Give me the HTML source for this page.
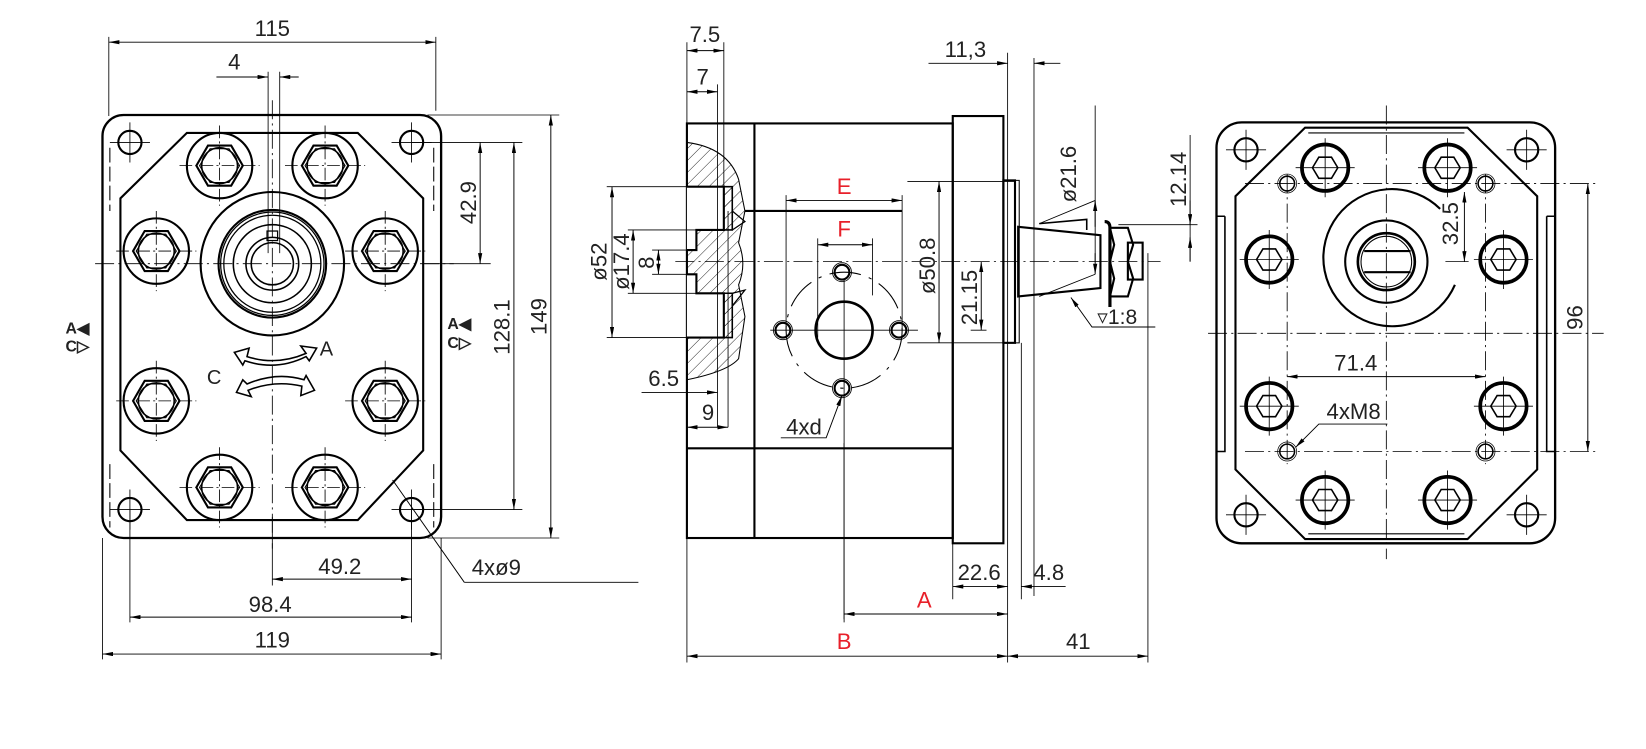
<!DOCTYPE html>
<html><head><meta charset="utf-8"><style>
html,body{margin:0;padding:0;background:#fff;width:1646px;height:749px;overflow:hidden}
svg{display:block}
text{font-family:"Liberation Sans",sans-serif;font-size:21px;fill:#222}
.r{fill:#e8202a}
</style></head><body>
<svg width="1646" height="749" viewBox="0 0 1560 710" xmlns="http://www.w3.org/2000/svg">
<defs>
<marker id="a" viewBox="0 0 10 4" refX="10" refY="2" markerWidth="10" markerHeight="4" markerUnits="userSpaceOnUse" orient="auto-start-reverse"><path d="M0,0L10,2L0,4z" fill="#000"/></marker>
<pattern id="h" width="8" height="8" patternUnits="userSpaceOnUse" patternTransform="rotate(45)"><line x1="0" y1="0" x2="0" y2="8" stroke="#000" stroke-width="0.8"/></pattern>
<g id="bolt"><circle r="31" fill="none" stroke="#000" stroke-width="2"/><polygon points="-22,0 -11,-19 11,-19 22,0 11,19 -11,19" fill="none" stroke="#000" stroke-width="2"/><polygon points="-19,0 -9,-16 9,-16 19,0 9,16 -9,16" fill="none" stroke="#000" stroke-width="1"/><circle r="17" fill="none" stroke="#000" stroke-width="1.5"/><path d="M-38,0H38M0,-38V38" stroke="#000" stroke-width="0.8" stroke-dasharray="12 3 2 3"/></g>
<g id="hole"><circle r="11" fill="none" stroke="#000" stroke-width="2"/><path d="M-19,0H19M0,-19V19" stroke="#000" stroke-width="0.8"/></g>
<g id="rbolt"><circle r="22" fill="none" stroke="#000" stroke-width="3.5"/><polygon points="-12,0 -6,-10 6,-10 12,0 6,10 -6,10" fill="none" stroke="#000" stroke-width="1.5"/><path d="M-28,0H28M0,-28V28" stroke="#000" stroke-width="0.8"/></g>
<g id="m8"><circle r="7" fill="none" stroke="#000" stroke-width="1.5"/><circle r="9" fill="none" stroke="#000" stroke-width="0.7"/></g>
</defs>
<g fill="none" stroke="#000">
<!-- LEFT VIEW -->
<rect x="97" y="109" width="321" height="401" rx="20" stroke-width="2.2"/>
<path d="M104,140V200M104,440V500M411,140V200M411,440V500" stroke-width="1" stroke-dasharray="14 4"/>
<polygon points="177,126 339,126 401,188 401,427 339,493 177,493 114,427 114,188" stroke-width="2"/>
<use href="#hole" x="123" y="135"/><use href="#hole" x="390" y="135"/><use href="#hole" x="123" y="483"/><use href="#hole" x="390" y="483"/>
<use href="#bolt" x="208" y="157"/><use href="#bolt" x="308" y="157"/><use href="#bolt" x="148" y="238"/><use href="#bolt" x="365" y="238"/>
<use href="#bolt" x="148" y="380"/><use href="#bolt" x="365" y="380"/><use href="#bolt" x="208" y="462"/><use href="#bolt" x="308" y="462"/>
<circle cx="258" cy="250" r="68" stroke-width="2"/>
<circle cx="258" cy="250" r="51" stroke-width="2"/><circle cx="258" cy="250" r="49" stroke-width="1.2"/><circle cx="258" cy="250" r="46" stroke-width="1.2"/>
<circle cx="258" cy="250" r="37" stroke-width="1.5"/><circle cx="258" cy="250" r="25" stroke-width="1.5"/><circle cx="258" cy="250" r="20" stroke-width="1.5"/>
<rect x="253" y="219" width="10" height="9" stroke-width="1.2"/>
<path d="M90,250H430" stroke-width="0.8" stroke-dasharray="18 4 2 4"/>
<path d="M258,95V520" stroke-width="0.8" stroke-dasharray="18 4 2 4"/>
<path d="M222,334 L236,330 L234,338 Q262,347 290,335 L285,328 L300,330 L293,342 L290,338 Q262,352 232,342 L230,346 Z" stroke-width="1.5"/>
<path d="M298,370 L285,375 L286,366 Q260,360 235,370 L238,376 L224,372 L230,360 L234,364 Q262,352 288,360 L290,356 Z" stroke-width="1.5"/>
<path d="M103,35V110M413,35V105M254,68V240M265,68V240" stroke-width="0.8"/>
<path d="M103,40H413" stroke-width="0.9" marker-start="url(#a)" marker-end="url(#a)"/>
<path d="M205,73H254" stroke-width="0.9" marker-end="url(#a)"/><path d="M283,73H265" stroke-width="0.9" marker-end="url(#a)"/>
<path d="M405,109H530M390,135H495M400,250H465M390,483H495M405,510H530" stroke-width="0.8"/>
<path d="M455,135V250" stroke-width="0.9" marker-start="url(#a)" marker-end="url(#a)"/>
<path d="M487,135V483" stroke-width="0.9" marker-start="url(#a)" marker-end="url(#a)"/>
<path d="M522,109V510" stroke-width="0.9" marker-start="url(#a)" marker-end="url(#a)"/>
<path d="M97,510V625M418,510V625M123,483V590M390,483V590M258,490V555" stroke-width="0.8"/>
<path d="M258,549H390" stroke-width="0.9" marker-start="url(#a)" marker-end="url(#a)"/>
<path d="M123,585H390" stroke-width="0.9" marker-start="url(#a)" marker-end="url(#a)"/>
<path d="M97,620H418" stroke-width="0.9" marker-start="url(#a)" marker-end="url(#a)"/>
<path d="M440,552L372,455M440,552H605" stroke-width="0.9"/>
<!-- MIDDLE VIEW -->
<rect x="651" y="117" width="252" height="393" stroke-width="2"/>
<path d="M715,117V510M651,425H903" stroke-width="2"/>
<rect x="903" y="110" width="48" height="405" stroke-width="2"/>
<rect x="951" y="171" width="11" height="154" stroke-width="2"/>
<path d="M951,171H966V325H951" stroke-width="1"/>
<path d="M651,135Q690,140 700,170L706,200L700,230Q708,250 700,270L706,300L700,340Q690,352 651,360Z" fill="url(#h)" stroke-width="1"/>
<path d="M651,177H686V218H660V237H651M651,260H660V278H686V320H651" fill="#fff" stroke-width="2"/>
<path d="M686,177H694V218H686M686,278H694V320H686" fill="url(#h)" stroke-width="1.5"/>
<path d="M694,200L706,210L694,218M694,278L706,275L694,290" stroke-width="1.2"/>
<path d="M706,200H855" stroke-width="2"/>
<path d="M965,215L1043,223V273L965,281Z" stroke-width="2"/>
<path d="M985,212L1030,208V218" stroke-width="1.5"/>
<path d="M1047,210Q1052,210 1052,216V291" stroke-width="3"/>
<path d="M1052,216H1069L1074,232L1069,248L1074,264L1069,281H1052L1056,264L1052,248L1056,232Z" stroke-width="2"/>
<rect x="1069" y="230" width="14" height="35" stroke-width="2"/>
<circle cx="800" cy="313" r="27" stroke-width="2.5"/>
<circle cx="800" cy="313" r="55" stroke-width="1" stroke-dasharray="30 8 3 8"/>
<g stroke-width="2"><circle cx="798" cy="258" r="7"/><circle cx="742" cy="313" r="7"/><circle cx="852" cy="313" r="7"/><circle cx="798" cy="368" r="7"/></g>
<g stroke-width="0.8"><circle cx="798" cy="258" r="9"/><circle cx="742" cy="313" r="9"/><circle cx="852" cy="313" r="9"/><circle cx="798" cy="368" r="9"/></g>
<path d="M640,248H1100" stroke-width="0.8" stroke-dasharray="18 4 2 4"/>
<path d="M800,265V590M730,313H870" stroke-width="0.8"/>
<path d="M651,40V117M686,40V200M680,80V405M690,200V405" stroke-width="0.8"/>
<path d="M651,48H686" stroke-width="0.9" marker-start="url(#a)" marker-end="url(#a)"/>
<path d="M651,87H680" stroke-width="0.9" marker-start="url(#a)" marker-end="url(#a)"/>
<path d="M880,60H955" stroke-width="0.9" marker-end="url(#a)"/><path d="M1005,60H980" stroke-width="0.9" marker-end="url(#a)"/>
<path d="M955,50V628M980,55V565M903,515V568M968,325V568M1088,240V628M651,510V628M800,420V587" stroke-width="0.8"/>
<path d="M903,556H955" stroke-width="0.9" marker-start="url(#a)" marker-end="url(#a)"/>
<path d="M1010,556H968" stroke-width="0.9" marker-end="url(#a)"/>
<path d="M800,582H955" stroke-width="0.9" marker-start="url(#a)" marker-end="url(#a)"/>
<path d="M651,622H955" stroke-width="0.9" marker-start="url(#a)" marker-end="url(#a)"/>
<path d="M955,622H1088" stroke-width="0.9" marker-start="url(#a)" marker-end="url(#a)"/>
<path d="M1060,213H1135M1128,128V248" stroke-width="0.8"/>
<path d="M1128,190V213" stroke-width="0.9" marker-end="url(#a)"/><path d="M1128,225V248" stroke-width="0.9" marker-start="url(#a)"/>
<path d="M1038,100V248M985,212L1038,190M985,281L1038,260" stroke-width="0.8"/>
<path d="M1038,190V215" stroke-width="0.9" marker-start="url(#a)"/><path d="M1038,240V260" stroke-width="0.9" marker-end="url(#a)"/>
<path d="M860,172H962M860,325H962M920,313H935" stroke-width="0.8"/>
<path d="M890,172V325" stroke-width="0.9" marker-start="url(#a)" marker-end="url(#a)"/>
<path d="M930,248V313" stroke-width="0.9" marker-start="url(#a)" marker-end="url(#a)"/>
<path d="M575,177H686M575,320H686M595,218H686M595,278H686M618,237H660M618,260H660" stroke-width="0.8"/>
<path d="M580,177V320" stroke-width="0.9" marker-start="url(#a)" marker-end="url(#a)"/>
<path d="M600,218V278" stroke-width="0.9" marker-start="url(#a)" marker-end="url(#a)"/>
<path d="M624,237V260" stroke-width="0.9" marker-start="url(#a)" marker-end="url(#a)"/>
<path d="M608,372H680" stroke-width="0.9" marker-end="url(#a)"/><path d="M651,405H690" stroke-width="0.9" marker-start="url(#a)" marker-end="url(#a)"/>
<path d="M745,190H855" stroke-width="0.9" marker-start="url(#a)" marker-end="url(#a)"/>
<path d="M745,185V313M855,185V313M775,226V320M827,226V280" stroke-width="0.8"/>
<path d="M775,232H827" stroke-width="0.9" marker-start="url(#a)" marker-end="url(#a)"/>
<path d="M740,415H783L798,375" stroke-width="0.9" marker-end="url(#a)"/>
<path d="M1095,310H1035L1015,282" stroke-width="0.9" marker-end="url(#a)"/>
<!-- RIGHT VIEW -->
<rect x="1153" y="116" width="321" height="399" rx="24" stroke-width="2.2"/>
<polygon points="1237,121 1391,121 1457,186 1457,445 1391,511 1237,511 1171,445 1171,186" stroke-width="2"/>
<path d="M1240,126H1388M1240,506H1388" stroke-width="1"/>
<path d="M1466,205V428H1474M1161,205V428H1153M1466,205H1474M1161,205H1153" stroke-width="1.5"/>
<use href="#hole" x="1181" y="142"/><use href="#hole" x="1447" y="142"/><use href="#hole" x="1181" y="488"/><use href="#hole" x="1447" y="488"/>
<use href="#rbolt" x="1256" y="159"/><use href="#rbolt" x="1372" y="159"/><use href="#rbolt" x="1203" y="246"/><use href="#rbolt" x="1425" y="246"/>
<use href="#rbolt" x="1203" y="385"/><use href="#rbolt" x="1425" y="385"/><use href="#rbolt" x="1256" y="474"/><use href="#rbolt" x="1372" y="474"/>
<use href="#m8" x="1220" y="174"/><use href="#m8" x="1408" y="174"/><use href="#m8" x="1220" y="428"/><use href="#m8" x="1408" y="428"/>
<path d="M1365,198A65,65 0 1,0 1379,270" stroke-width="2"/>
<circle cx="1314" cy="248" r="39" stroke-width="2"/>
<circle cx="1314" cy="248" r="27" stroke-width="2.5"/><circle cx="1314" cy="248" r="24" stroke-width="1"/>
<path d="M1293,238H1337M1293,258H1337" stroke-width="2"/>
<path d="M1145,316H1520M1180,174H1515M1180,428H1515" stroke-width="0.8" stroke-dasharray="18 4 2 4"/>
<path d="M1314,100V530M1220,165V440M1408,165V440" stroke-width="0.8" stroke-dasharray="18 4 2 4"/>
<path d="M1220,357H1408" stroke-width="0.9" marker-start="url(#a)" marker-end="url(#a)"/>
<path d="M1505,174V428" stroke-width="0.9" marker-start="url(#a)" marker-end="url(#a)"/>
<path d="M1388,182V248" stroke-width="0.9" marker-start="url(#a)" marker-end="url(#a)"/>
<path d="M1370,248H1392" stroke-width="0.8"/>
<path d="M1315,402H1250L1228,424" stroke-width="0.9" marker-end="url(#a)"/>
</g>
<text x="258" y="34" text-anchor="middle">115</text>
<text x="222" y="66" text-anchor="middle">4</text>
<text transform="translate(451,192) rotate(-90)" text-anchor="middle">42.9</text>
<text transform="translate(483,310) rotate(-90)" text-anchor="middle">128.1</text>
<text transform="translate(518,300) rotate(-90)" text-anchor="middle">149</text>
<text x="322" y="544" text-anchor="middle">49.2</text>
<text x="256" y="580" text-anchor="middle">98.4</text>
<text x="258" y="614" text-anchor="middle">119</text>
<text x="447" y="545">4xø9</text>
<text x="303" y="337" style="font-size:19px">A</text>
<text x="196" y="364" style="font-size:19px">C</text>
<text x="62" y="316" style="font-size:15px;font-weight:bold">A◀</text>
<text x="62" y="333" style="font-size:15px;font-weight:bold">C▷</text>
<text x="424" y="312" style="font-size:15px;font-weight:bold">A◀</text>
<text x="424" y="330" style="font-size:15px;font-weight:bold">C▷</text>
<text x="668" y="40" text-anchor="middle">7.5</text>
<text x="666" y="80" text-anchor="middle">7</text>
<text x="915" y="54" text-anchor="middle">11,3</text>
<text transform="translate(1124,170) rotate(-90)" text-anchor="middle">12.14</text>
<text transform="translate(1020,165) rotate(-90)" text-anchor="middle">ø21.6</text>
<text transform="translate(886,252) rotate(-90)" text-anchor="middle">ø50.8</text>
<text transform="translate(926,282) rotate(-90)" text-anchor="middle">21.15</text>
<text transform="translate(575,248) rotate(-90)" text-anchor="middle">ø52</text>
<text transform="translate(596,248) rotate(-90)" text-anchor="middle">ø17.4</text>
<text transform="translate(620,249) rotate(-90)" text-anchor="middle">8</text>
<text x="629" y="366" text-anchor="middle">6.5</text>
<text x="671" y="398" text-anchor="middle">9</text>
<text x="800" y="184" text-anchor="middle" class="r">E</text>
<text x="800" y="224" text-anchor="middle" class="r">F</text>
<text x="762" y="412" text-anchor="middle">4xd</text>
<text x="928" y="550" text-anchor="middle">22.6</text>
<text x="994" y="550" text-anchor="middle">4.8</text>
<text x="876" y="576" text-anchor="middle" class="r">A</text>
<text x="800" y="615" text-anchor="middle" class="r">B</text>
<text x="1022" y="615" text-anchor="middle">41</text>
<text x="1040" y="307" style="font-size:20px">▿1:8</text>
<text x="1285" y="351" text-anchor="middle">71.4</text>
<text transform="translate(1500,301) rotate(-90)" text-anchor="middle">96</text>
<text transform="translate(1382,212) rotate(-90)" text-anchor="middle">32.5</text>
<text x="1283" y="397" text-anchor="middle">4xM8</text>
</svg>
</body></html>
